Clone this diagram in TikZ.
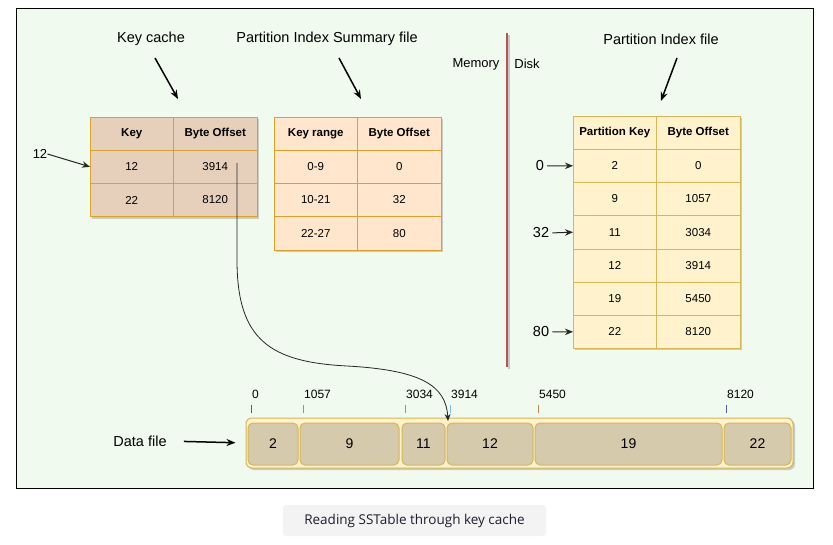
\documentclass[tikz,border=0pt]{standalone}
\usepackage{fontspec}
\setmainfont{Liberation Sans}
\newfontfamily\capfont{Open Sans}
\usetikzlibrary{positioning}
\usetikzlibrary{calc}
\usetikzlibrary{arrows.meta}
\usetikzlibrary{shadows}

\definecolor{panelbg}{RGB}{240,250,238}
\definecolor{kcfill}{RGB}{230,208,188}
\definecolor{sumfill}{RGB}{255,230,204}
\definecolor{idxfill}{RGB}{255,242,204}
\definecolor{kcline}{RGB}{218,162,40}
\definecolor{goldline}{RGB}{214,182,86}
\definecolor{dfill}{RGB}{214,202,172}
\definecolor{redline}{RGB}{184,84,80}
\definecolor{tickA}{RGB}{80,90,150}
\definecolor{tickB}{RGB}{200,132,80}
\definecolor{tickC}{RGB}{120,195,230}
\definecolor{capbg}{RGB}{243,243,243}
\definecolor{captext}{RGB}{30,30,45}

\begin{document}
\begin{tikzpicture}[x=1pt, y=-1pt,
    lbl/.style={font=\fontsize{14.5}{16}\selectfont, inner sep=0pt},
    cell/.style={draw, minimum width=83.5pt, minimum height=33.2pt, inner sep=0pt,
      outer sep=0pt, font=\fontsize{11.5}{13}\selectfont},
    hdr/.style={font=\fontsize{11.5}{13}\selectfont\bfseries},
    shade/.style={drop shadow={shadow xshift=2pt, shadow yshift=-2pt, opacity=0.3, fill=black!60}},
    kccell/.style={cell, fill=kcfill, draw=kcline, shade},
    sumcell/.style={cell, fill=sumfill, draw=kcline, shade},
    idxcell/.style={cell, fill=idxfill, draw=goldline, shade},
    dcell/.style={draw=goldline, fill=dfill, line width=1pt, rounded corners=5pt,
      minimum height=42pt, inner sep=0pt, font=\fontsize{14}{16}\selectfont},
    bigarrow/.style={-{Stealth[length=9pt,width=7pt]}, line width=1.5pt},
    ptr/.style={-{Stealth[length=8pt,width=6.5pt]}, line width=1pt, black!85}]
  \useasboundingbox (0,0) rectangle (833,545);
  \draw[fill=panelbg, line width=0.8pt] (16.5,8.5) rectangle (813,488);

  % key cache
  \node[lbl] (kc-lbl) at (151,39) {Key cache};
  \node[kccell, hdr, anchor=north west] (kc-h1) at (90,117) {Key};
  \node[kccell, hdr, right=0pt of kc-h1] (kc-h2) {Byte Offset};
  \foreach \k/\o [count=\i] in {12/3914, 22/8120} {
    \node[kccell, anchor=north west] (kc-\i-1) at (90,{117+33.2*\i}) {\k};
    \node[kccell, right=0pt of kc-\i-1] (kc-\i-2) {\o};
  }
  \coordinate (kc-a) at (155,58);
  \coordinate (kc-b) at (178,99);
  \draw[bigarrow] (kc-a) -- (kc-b);
  \node[font=\fontsize{13}{15}\selectfont, inner sep=0pt] (in12) at (40,154) {12};
  \draw[ptr] (in12.east) -- (kc-1-1.west);

  % summary
  \node[lbl] (sum-lbl) at (327,39) {Partition Index Summary file};
  \node[sumcell, hdr, anchor=north west] (sum-h1) at (274,117) {Key range};
  \node[sumcell, hdr, right=0pt of sum-h1] (sum-h2) {Byte Offset};
  \foreach \k/\o [count=\i] in {0-9/0, 10-21/32, 22-27/80} {
    \node[sumcell, anchor=north west] (sum-\i-1) at (274,{117+33.2*\i}) {\k};
    \node[sumcell, right=0pt of sum-\i-1] (sum-\i-2) {\o};
  }
  \coordinate (sum-a) at (339,58);
  \coordinate (sum-b) at (361,99);
  \draw[bigarrow] (sum-a) -- (sum-b);

  % memory / disk
  \coordinate (div-top) at (507,33);
  \coordinate (div-bot) at (507,367);
  \draw[black!22, line width=2pt] ($(div-top)+(2,2)$) -- ($(div-bot)+(2,2)$);
  \draw[redline, line width=2.2pt] (div-top) -- (div-bot);
  \node[font=\fontsize{13}{15}\selectfont] (mem) at (476,64) {Memory};
  \node[font=\fontsize{13}{15}\selectfont] (disk) at (527,64) {Disk};

  % partition index
  \node[lbl] (idx-lbl) at (661,39) {Partition Index file};
  \node[idxcell, hdr, anchor=north west] (idx-h1) at (573,116) {Partition Key};
  \node[idxcell, hdr, right=0pt of idx-h1] (idx-h2) {Byte Offset};
  \foreach \k/\o [count=\i] in {2/0, 9/1057, 11/3034, 12/3914, 19/5450, 22/8120} {
    \node[idxcell, anchor=north west] (idx-\i-1) at (573,{116+33.2*\i}) {\k};
    \node[idxcell, right=0pt of idx-\i-1] (idx-\i-2) {\o};
  }
  \coordinate (idx-a) at (677,58);
  \coordinate (idx-b) at (661,101);
  \draw[bigarrow] (idx-a) -- (idx-b);
  \node[lbl] (p0) at (540,166) {0};
  \node[lbl] (p32) at (541,233) {32};
  \node[lbl] (p80) at (541,332) {80};
  \draw[ptr, shorten <=3pt] (p0.east) -- (idx-1-1.west);
  \draw[ptr, shorten <=3pt] (p32.east) -- (idx-3-1.west);
  \draw[ptr, shorten <=3pt] (p80.east) -- (idx-6-1.west);

  % data file
  \node[lbl] (dlbl) at (140,441) {Data file};
  \node[draw=goldline, fill=idxfill, line width=1pt, rounded corners=6pt,
    minimum width=547pt, minimum height=50pt, shade] (datafile) at (519.5,443) {};
  \foreach \v/\l/\r in {2/248/298, 9/300/399, 11/402/445, 12/447/533, 19/535/722, 22/724/791}
    \node[dcell, minimum width={(\r-\l)*1pt}] (d-\v) at ({(\l+\r)/2},444) {\v};
  \draw[bigarrow, shorten <=17pt, shorten >=10pt] (dlbl.east) -- (datafile.west);
  \foreach \off/\x/\c in {0/251/tickA, 1057/303/tickB, 3034/405/tickB, 3914/450/tickC, 5450/538/tickB, 8120/726/tickA} {
    \draw[\c, line width=1pt] (\x,405) -- (\x,413);
    \node[anchor=base west, inner sep=0pt, font=\fontsize{12}{14}\selectfont] (off-\off) at (\x+1,399) {\off};
  }

  % lookup curve
  \coordinate (curve-start) at (237,163);
  \coordinate (curve-end) at (448,421);
  \draw[black!85, line width=0.8pt, -{Stealth[length=7pt,width=6pt]}] (curve-start) -- (237,260)
    .. controls (237,340) and (270,362) .. (347,366)
    .. controls (420,370) and (446,385) .. (curve-end);

  % caption
  \node[fill=capbg, rounded corners=3pt, minimum width=263pt, minimum height=31pt,
    font=\capfont\fontsize{13.5}{16}\selectfont, text=captext] (caption) at (414.5,520.5)
    {Reading SSTable through key cache};
\end{tikzpicture}
\end{document}
